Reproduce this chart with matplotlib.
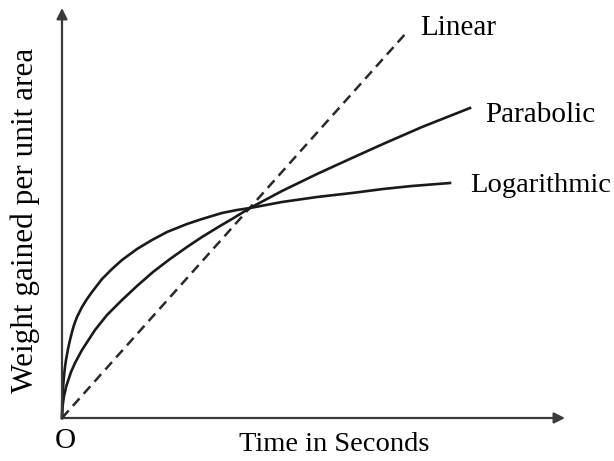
import matplotlib.pyplot as plt

# values (origin at the axes corner)
lin_t = [0, 345]
lin_w = [0, 386]

par_t = [0, 0.5, 1, 2, 3, 4, 6, 9, 13, 20, 33, 45, 60, 75, 91, 108, 125,
         140, 158, 170, 188, 220, 255, 290, 321, 360, 408]
par_w = [0, 11, 15, 22, 26, 31, 37, 46, 55, 68, 88, 103, 118, 132, 146, 159, 171,
         181, 192, 199, 210, 227, 244, 260, 274, 291, 310]

log_t = [0, 0.3, 1, 2, 3, 4, 6, 8, 10, 12, 15, 20, 25, 30, 40, 50, 60, 75, 90,
         105, 125, 140, 160, 175, 188, 220, 255, 290, 321, 350, 388]
log_w = [0, 18, 30, 42, 51, 58, 69, 78, 86, 93, 101, 111, 119, 126, 139, 149, 158,
         169, 178, 186, 194, 199, 205, 208, 210, 216, 221, 225, 229, 232, 235]

plt.rcParams['font.family'] = ['Liberation Serif', 'DejaVu Serif']

fig = plt.figure(figsize=(6.14, 4.61), dpi=100)
ax = fig.add_axes([0, 0, 1, 1])
ax.set_xlim(-62, 552)
ax.set_ylim(-43, 418)
ax.axis('off')

# axes with arrow heads
arrow = dict(arrowstyle='-|>', mutation_scale=16, lw=1.6, color='#3a3a3a',
             shrinkA=0, shrinkB=0)
ax.annotate('', xy=(503, 0), xytext=(0, 0), arrowprops=arrow)
ax.annotate('', xy=(0, 410), xytext=(0, 0), arrowprops=arrow)

ax.plot(lin_t, lin_w, color='#2a2a2a', lw=1.8, ls=(0, (4, 2.5)))
ax.plot(par_t, par_w, color='#1a1a1a', lw=1.9, solid_joinstyle='round')
ax.plot(log_t, log_w, color='#1a1a1a', lw=1.9, solid_joinstyle='round')

fs = 21
ax.text(358, 390, 'Linear', fontsize=fs, va='center', ha='left')
ax.text(423, 303, 'Parabolic', fontsize=fs, va='center', ha='left')
ax.text(408, 233, 'Logarithmic', fontsize=20.5, va='center', ha='left')
ax.text(3, -23, 'O', fontsize=fs, va='center', ha='center')
ax.text(272, -26, 'Time in Seconds', fontsize=20.5, va='center', ha='center')
ax.text(-37, 198, 'Weight gained per unit area', fontsize=22.5, va='center',
        ha='center', rotation=90)

fig.savefig('out.png', dpi=100)
